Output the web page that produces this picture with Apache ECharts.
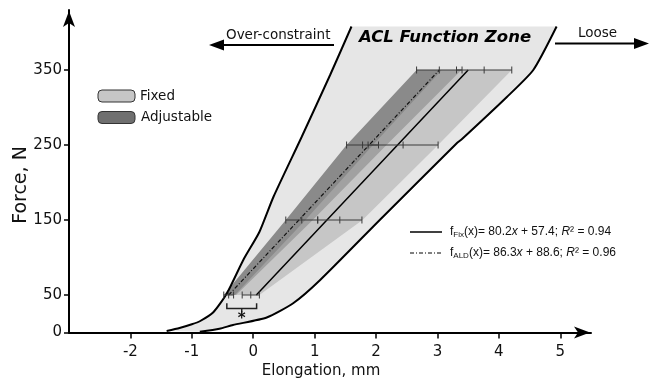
<!DOCTYPE html>
<html>
<head>
<meta charset="utf-8">
<script src="https://cdn.jsdelivr.net/npm/echarts@6/dist/echarts.min.js"></script>
<style>
  html, body { margin: 0; padding: 0; background: #fff; }
  #chart { width: 649px; height: 379px; }
</style>
</head>
<body>
<div id="chart"></div>
<script>
// axis ticks
const xTicks = [-2, -1, 0, 1, 2, 3, 4, 5]
const yTicks = [0, 50, 150, 250, 350]

// ACL function zone boundaries (elongation mm, force N)
const zoneLeftX = [-1.41, -1.2, -1.0, -0.87, -0.65, -0.43, -0.16, 0.1, 0.33, 0.79, 1.25, 1.60]
const zoneLeftY = [2, 6, 11, 15, 27, 52, 97, 134, 181, 261, 343, 408]
const zoneRightX = [-0.87, -0.55, -0.33, 0.22, 0.65, 1.09, 2.06, 3.31, 3.4, 4.13, 4.56, 4.94]
const zoneRightY = [1, 5, 10, 20, 39, 70, 150, 252, 258, 314, 350, 408]

// force levels and bands
const forceLevels = [50, 150, 250, 350]
const adjBandLow = [-0.48, 0.53, 1.52, 2.66]
const adjBandHigh = [-0.28, 0.97, 2.17, 3.39]
const fixBandLow = [-0.30, 0.85, 1.95, 3.07]
const fixBandHigh = [0.10, 1.78, 3.01, 4.21]

// error bars (mean, sd)
const adjMean = [-0.40, 0.79, 1.78, 3.03]
const adjSD = [0.08, 0.26, 0.26, 0.37]
const fixMean = [-0.04, 1.41, 2.44, 3.76]
const fixSD = [0.14, 0.36, 0.57, 0.45]

// fitted lines
const fixLineX = [0.05, 3.50]
const fixLineY = [50, 350]
const adjLineX = [-0.40, 3.03]
const adjLineY = [50, 350]

// significance bracket at 50 N
const sigX = [-0.43, 0.055]
const sigY = [39, 32]

const zip = (xs, ys) => xs.map((x, i) => [x, ys[i]])

function polygonSeries(xs, ys, color, z) {
    return {
        type: 'custom',
        z: z,
        silent: true,
        data: [0],
        renderItem: function (params, api) {
            const pts = xs.map((x, i) => api.coord([x, ys[i]]))
            return { type: 'polygon', shape: { points: pts }, style: { fill: color } }
        }
    }
}

function errorBarSeries(mean, sd, z) {
    return {
        type: 'custom',
        z: z,
        silent: true,
        data: forceLevels.map((f, i) => [f, mean[i], sd[i]]),
        renderItem: function (params, api) {
            const y = api.value(0), m = api.value(1), s = api.value(2)
            const a = api.coord([m - s, y])
            const b = api.coord([m + s, y])
            const c = api.coord([m, y])
            const st = { stroke: '#3a3a3a', lineWidth: 1 }
            const h = 3.5
            return {
                type: 'group',
                children: [
                    { type: 'line', shape: { x1: a[0], y1: a[1], x2: b[0], y2: b[1] }, style: st },
                    { type: 'line', shape: { x1: a[0], y1: a[1] - h, x2: a[0], y2: a[1] + h }, style: st },
                    { type: 'line', shape: { x1: b[0], y1: b[1] - h, x2: b[0], y2: b[1] + h }, style: st },
                    { type: 'line', shape: { x1: c[0], y1: c[1] - h, x2: c[0], y2: c[1] + h }, style: st }
                ]
            }
        }
    }
}

const zoneX = zoneLeftX.concat(zoneRightX.slice().reverse())
const zoneY = zoneLeftY.concat(zoneRightY.slice().reverse())
const adjX = adjBandLow.concat(adjBandHigh.slice().reverse())
const fixX = fixBandLow.concat(fixBandHigh.slice().reverse())
const bandY = forceLevels.concat(forceLevels.slice().reverse())

const chart = echarts.init(document.getElementById('chart'))

const axisFont = { fontFamily: 'DejaVu Sans', fontSize: 15, color: '#111' }

const option = {
    animation: false,
    grid: { left: 69, right: 58, top: 10, bottom: 46.5 },
    xAxis: {
        type: 'value',
        min: -3,
        max: 5.5,
        axisLine: { onZero: false, lineStyle: { color: '#000', width: 2 }, symbol: ['none', 'arrow'], symbolSize: [9, 16], symbolOffset: [0, -1] },
        axisTick: { show: true, length: 6, lineStyle: { color: '#000', width: 1.5 }, customValues: xTicks },
        axisLabel: Object.assign({ margin: 12, customValues: xTicks }, axisFont),
        splitLine: { show: false }
    },
    yAxis: {
        type: 'value',
        min: 0,
        max: 430,
        axisLine: { onZero: false, lineStyle: { color: '#000', width: 2 }, symbol: ['none', 'arrow'], symbolSize: [9, 16], symbolOffset: [0, -1] },
        axisTick: { show: true, length: 5, lineStyle: { color: '#000', width: 1.5 }, customValues: yTicks },
        axisLabel: Object.assign({ margin: 7, customValues: yTicks }, axisFont),
        splitLine: { show: false }
    },
    graphic: [
        // y axis title
        { type: 'text', x: 21, y: 185, rotation: Math.PI / 2, style: { text: 'Force, N', font: '19px "DejaVu Sans"', fill: '#111', align: 'center', verticalAlign: 'middle' } },
        // x axis title
        { type: 'text', x: 321, y: 371, style: { text: 'Elongation, mm', font: '15px "DejaVu Sans"', fill: '#111', align: 'center', verticalAlign: 'middle' } },
        // region legend
        { type: 'rect', shape: { x: 98, y: 90, width: 37, height: 12, r: 4 }, style: { fill: '#c6c6c6', stroke: '#333', lineWidth: 1 } },
        { type: 'rect', shape: { x: 98, y: 111.5, width: 37, height: 12, r: 4 }, style: { fill: '#6f6f6f', stroke: '#333', lineWidth: 1 } },
        { type: 'text', x: 140, y: 96.5, style: { text: 'Fixed', font: '13.5px "DejaVu Sans"', fill: '#111', verticalAlign: 'middle' } },
        { type: 'text', x: 141, y: 117.5, style: { text: 'Adjustable', font: '13.5px "DejaVu Sans"', fill: '#111', verticalAlign: 'middle' } },
        // top annotations
        { type: 'text', x: 226, y: 35, style: { text: 'Over-constraint', font: '13.5px "DejaVu Sans"', fill: '#111', verticalAlign: 'middle' } },
        { type: 'line', shape: { x1: 220, y1: 45, x2: 334, y2: 45 }, style: { stroke: '#000', lineWidth: 2 } },
        { type: 'polygon', shape: { points: [[209, 45], [224, 39.5], [224, 50.5]] }, style: { fill: '#000' } },
        { type: 'text', x: 445, y: 38, style: { text: 'ACL Function Zone', font: 'italic bold 16.5px "DejaVu Sans"', fill: '#000', align: 'center', verticalAlign: 'middle' }, z: 100 },
        { type: 'text', x: 578, y: 33.5, style: { text: 'Loose', font: '13.5px "DejaVu Sans"', fill: '#111', verticalAlign: 'middle' } },
        { type: 'line', shape: { x1: 555, y1: 43.5, x2: 638, y2: 43.5 }, style: { stroke: '#000', lineWidth: 2 } },
        { type: 'polygon', shape: { points: [[649, 43.5], [634, 38], [634, 49]] }, style: { fill: '#000' } },
        // fit legend
        { type: 'line', shape: { x1: 410, y1: 232, x2: 442, y2: 232 }, style: { stroke: '#000', lineWidth: 1.5 } },
        { type: 'line', shape: { x1: 410, y1: 253, x2: 442, y2: 253 }, style: { stroke: '#000', lineWidth: 1, lineDash: [4, 2, 1, 2] } },
        {
            type: 'text', x: 450, y: 232,
            style: {
                text: '{n|f}{s|Fix}{n|(x)= 80.2}{i|x}{n| + 57.4; }{i|R}{n|² = 0.94}',
                verticalAlign: 'middle',
                rich: {
                    n: { fontFamily: 'Liberation Sans', fontSize: 12, fill: '#111', lineHeight: 14 },
                    i: { fontFamily: 'Liberation Sans', fontSize: 12, fontStyle: 'italic', fill: '#111', lineHeight: 14 },
                    s: { fontFamily: 'Liberation Sans', fontSize: 8, fill: '#111', lineHeight: 8, verticalAlign: 'bottom' }
                }
            }
        },
        {
            type: 'text', x: 450, y: 253,
            style: {
                text: '{n|f}{s|ALD}{n|(x)= 86.3}{i|x}{n| + 88.6; }{i|R}{n|² = 0.96}',
                verticalAlign: 'middle',
                rich: {
                    n: { fontFamily: 'Liberation Sans', fontSize: 12, fill: '#111', lineHeight: 14 },
                    i: { fontFamily: 'Liberation Sans', fontSize: 12, fontStyle: 'italic', fill: '#111', lineHeight: 14 },
                    s: { fontFamily: 'Liberation Sans', fontSize: 8, fill: '#111', lineHeight: 8, verticalAlign: 'bottom' }
                }
            }
        }
    ],
    series: [
        polygonSeries(zoneX, zoneY, '#e6e6e6', 1),
        polygonSeries(adjX, bandY, '#8a8a8a', 2),
        polygonSeries(fixX, bandY, 'rgba(176,176,176,0.6)', 3),
        {
            type: 'line', z: 5, silent: true, symbol: 'none', smooth: 0.2,
            data: zip(zoneLeftX, zoneLeftY),
            lineStyle: { color: '#000', width: 2 }
        },
        {
            type: 'line', z: 5, silent: true, symbol: 'none', smooth: 0.2,
            data: zip(zoneRightX, zoneRightY),
            lineStyle: { color: '#000', width: 2 }
        },
        {
            type: 'line', z: 6, silent: true, symbol: 'none',
            data: zip(fixLineX, fixLineY),
            lineStyle: { color: '#000', width: 1.5 }
        },
        {
            type: 'line', z: 6, silent: true, symbol: 'none',
            data: zip(adjLineX, adjLineY),
            lineStyle: { color: '#111', width: 1.2, type: [4, 2, 1, 2] }
        },
        errorBarSeries(adjMean, adjSD, 7),
        errorBarSeries(fixMean, fixSD, 7),
        {
            // significance bracket
            type: 'custom', z: 7, silent: true,
            data: [0],
            renderItem: function (params, api) {
                const p1 = api.coord([sigX[0], sigY[0]])
                const p2 = api.coord([sigX[0], sigY[1]])
                const p3 = api.coord([sigX[1], sigY[1]])
                const p4 = api.coord([sigX[1], sigY[0]])
                const mid = (p2[0] + p3[0]) / 2
                const st = { stroke: '#222', lineWidth: 1.5, fill: null }
                return {
                    type: 'group',
                    children: [
                        { type: 'polyline', shape: { points: [p1, p2, p3, p4] }, style: st },
                        { type: 'line', shape: { x1: mid, y1: p2[1], x2: mid, y2: p2[1] + 4 }, style: st },
                        { type: 'text', x: mid, y: p2[1] + 11, style: { text: '*', font: 'bold 15px "DejaVu Sans"', fill: '#111', align: 'center', verticalAlign: 'middle' } }
                    ]
                }
            }
        }
    ]
}

chart.setOption(option)
</script>
</body>
</html>
